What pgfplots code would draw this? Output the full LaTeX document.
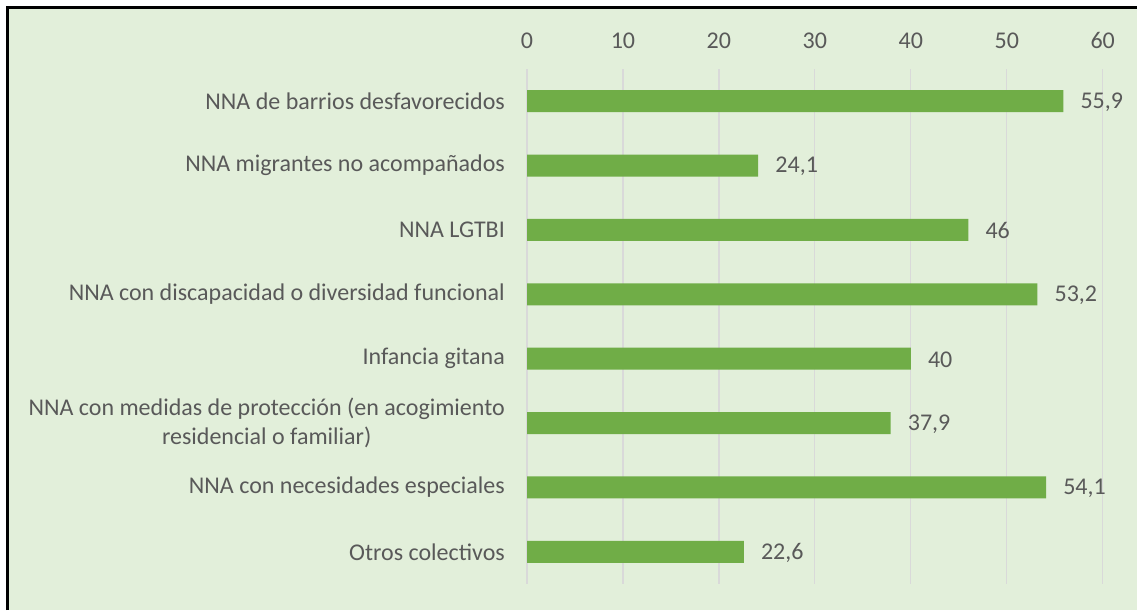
\documentclass[border=0pt]{standalone}
\usepackage{fontspec}
\setmainfont{Carlito}
\usepackage{pgfplots}
\pgfplotsset{compat=1.18}
\definecolor{bg}{HTML}{E2EFDA}
\definecolor{barc}{HTML}{70AD47}
\definecolor{txt}{HTML}{595959}
\definecolor{grd}{HTML}{D9D9D9}
\begin{document}
\begin{tikzpicture}
\useasboundingbox (0,0) rectangle (1137pt,610pt);
\fill[white] (0,0) rectangle (1137pt,610pt);
\fill[bg] (9pt,0) rectangle (1137pt,601pt);
\draw[black, line width=3pt] (7.5pt,0) -- (7.5pt,602.5pt) -- (1137pt,602.5pt);
\begin{axis}[
  at={(527pt,26pt)}, anchor=south west,
  width=575.7pt, height=515pt, scale only axis,
  xbar, bar width=22pt,
  xmin=0, xmax=60, xtick={0,10,...,60},
  ymin=-0.5, ymax=7.5, enlarge y limits=false, y dir=reverse,
  ytick={0,...,7},
  yticklabels={NNA de barrios desfavorecidos,
    NNA migrantes no acompañados,
    NNA LGTBI,
    NNA con discapacidad o diversidad funcional,
    Infancia gitana,
    {NNA con medidas de protección (en acogimiento\\residencial o familiar)},
    NNA con necesidades especiales,
    Otros colectivos},
  xticklabel pos=upper,
  /pgf/number format/assume math mode=true,
  /pgf/number format/use comma,
  axis line style={draw=none},
  major tick length=0pt,
  tick style={draw=none},
  xmajorgrids, grid style={color=grd, line width=1.2pt},
  xticklabel style={font=\fontsize{24}{29}\selectfont, text=txt, anchor=base, inner sep=0pt, yshift=21pt},
  yticklabel style={font=\fontsize{24}{29}\selectfont, text=txt, anchor=east, inner sep=0pt, xshift=-22pt, align=center},
  point meta=x,
  nodes near coords={\pgfmathprintnumber[assume math mode=true,use comma]{\pgfplotspointmeta}},
  every node near coord/.append style={font=\fontsize{24}{29}\selectfont, text=txt, anchor=west, inner sep=0pt, xshift=17pt, yshift=-1pt},
]
\addplot[fill=barc, draw=none] coordinates {
  (55.9,0) (24.1,1) (46,2) (53.2,3) (40,4) (37.9,5) (54.1,6) (22.6,7)};
\end{axis}
\end{tikzpicture}
\end{document}
